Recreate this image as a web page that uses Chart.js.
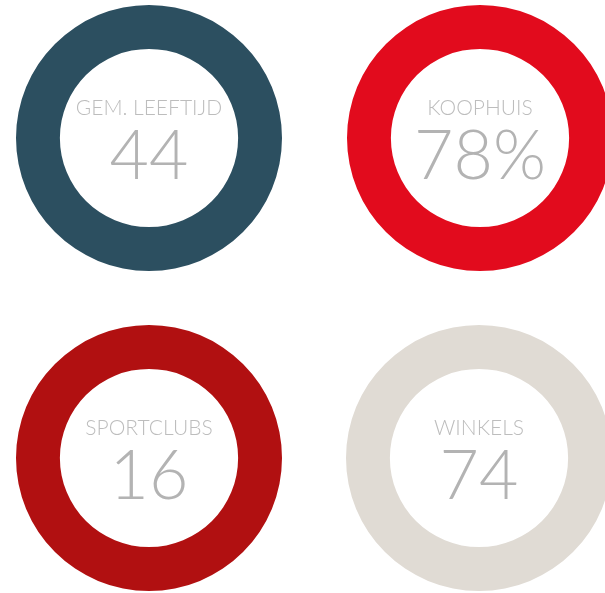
<!DOCTYPE html>
<html>
<head>
<meta charset="utf-8">
<script src="https://cdn.jsdelivr.net/npm/chart.js@4/dist/chart.umd.min.js"></script>
<style>
  html, body { margin: 0; padding: 0; background: #ffffff; width: 605px; height: 593px; overflow: hidden; }
  .cell { position: absolute; width: 266px; height: 266px; }
  .cell canvas { position: absolute; left: 0; top: 0; }
  .txt { position: absolute; left: 0; width: 266px; text-align: center; font-family: Lato, "Open Sans", sans-serif; font-weight: 300; white-space: nowrap; }
  .lbl { font-size: 21px; color: #bdbdbd; line-height: 1.2; }
  .num { font-size: 68px; color: #b3b3b3; line-height: 1; }
</style>
</head>
<body>
<script>
// Data
const labels = ["GEM. LEEFTIJD", "KOOPHUIS", "SPORTCLUBS", "WINKELS"];
const values = [44, 78, 16, 74];
const valueTexts = ["44", "78%", "16", "74"];
const colors = ["#2c4f60", "#e20b1d", "#b11011", "#e0dbd4"];
const centers = [[149, 138], [480, 138], [149, 458], [479, 458]];

labels.forEach((lab, i) => {
  const cell = document.createElement('div');
  cell.className = 'cell';
  cell.style.left = (centers[i][0] - 133) + 'px';
  cell.style.top = (centers[i][1] - 133) + 'px';
  const cv = document.createElement('canvas');
  cv.width = 266; cv.height = 266;
  cell.appendChild(cv);
  const l = document.createElement('div');
  l.className = 'txt lbl';
  l.textContent = lab;
  l.style.top = '89px';
  cell.appendChild(l);
  const n = document.createElement('div');
  n.className = 'txt num';
  n.textContent = valueTexts[i];
  n.style.top = '114px';
  cell.appendChild(n);
  document.body.appendChild(cell);

  new Chart(cv, {
    type: 'doughnut',
    data: {
      labels: [lab],
      datasets: [{ data: [values[i]], backgroundColor: [colors[i]], borderWidth: 0 }]
    },
    options: {
      responsive: false,
      animation: false,
      cutout: '67%',
      layout: { padding: 0 },
      plugins: { legend: { display: false }, tooltip: { enabled: false } }
    }
  });
});
</script>
</body>
</html>
